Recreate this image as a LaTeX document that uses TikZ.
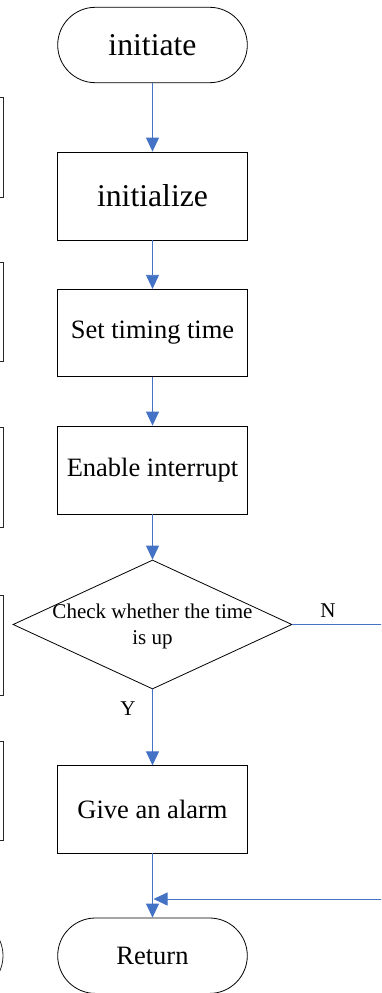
\documentclass[tikz,border=0pt]{standalone}
\usepackage{fontspec}
\setmainfont{Liberation Serif}
\usetikzlibrary{shapes.geometric,arrows.meta}
\definecolor{flowblue}{RGB}{68,114,196}
\begin{document}
\begin{tikzpicture}[x=1pt,y=-1pt,
  box/.style={draw=black,line width=0.8pt,rectangle,minimum width=189.6pt,inner sep=0pt,
    font=\fontsize{26.5}{30}\selectfont},
  terminal/.style={draw=black,line width=0.8pt,rectangle,rounded corners=37.7pt,
    minimum width=189.6pt,minimum height=75.4pt,inner sep=0pt},
  decision/.style={draw=black,line width=0.8pt,diamond,minimum width=279pt,
    minimum height=129pt,inner sep=0pt},
  flow/.style={draw=flowblue,line width=0.8pt,-{Triangle[length=14pt,width=13pt]}},
  lbl/.style={inner sep=0pt,font=\fontsize{21}{26}\selectfont},
  side/.style={draw=black!85,line width=0.8pt}]
\useasboundingbox (0,0) rectangle (381,993);

% main column
\node[terminal,font=\fontsize{31.7}{36}\selectfont] (start) at (152.5,45) {initiate};
\node[box,minimum height=88pt,font=\fontsize{31.7}{36}\selectfont] (init) at (152.5,196) {initialize};
\node[box,minimum height=87.4pt] (settime) at (152.5,333) {Set timing time};
\node[box,minimum height=88pt] (enable) at (152.5,470) {Enable interrupt};
\node[decision] (check) at (152.5,624.5) {};
\node[lbl,align=center] (checktxt) at (152.5,626) {Check whether the time\\is up};
\node[box,minimum height=87.3pt] (alarm) at (152.5,809.4) {Give an alarm};
\node[terminal,font=\fontsize{26.5}{30}\selectfont] (ret) at (152.5,955.7) {Return};

\node[lbl] (nlabel) at (328,611) {N};
\node[lbl] (ylabel) at (128,709) {Y};

\coordinate (merge) at (153.5,899);
\coordinate (farright) at (400,624.5);

\begin{scope}
  \clip (0,0) rectangle (381,993);
  % connectors
  \draw[flow] (start) -- (init);
  \draw[flow] (init) -- (settime);
  \draw[flow] (settime) -- (enable);
  \draw[flow] (enable) -- (check);
  \draw[flow] (check) -- (alarm);
  \draw[flow] (alarm) -- (ret);
  \draw[flow] (check.east) -- (farright) |- (merge);
  % neighbouring column, cut by the edge
  \draw[side] (-60,97) rectangle (3.5,197);
  \draw[side] (-60,262) rectangle (3.5,361);
  \draw[side] (-60,427) rectangle (3.5,527);
  \draw[side] (-60,595) rectangle (3.5,695);
  \draw[side] (-60,741) rectangle (3.5,840);
  \draw[side,rounded corners=37.7pt] (-200,918) rectangle (3,993.4);
\end{scope}
\end{tikzpicture}
\end{document}
